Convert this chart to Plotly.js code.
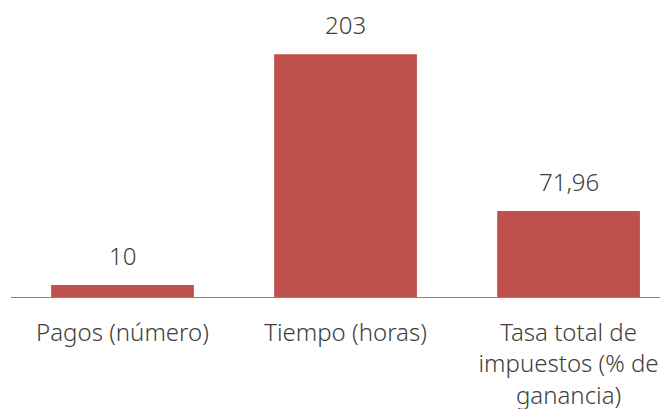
<!DOCTYPE html>
<html>
<head>
<meta charset="utf-8">
<script src="https://cdn.plot.ly/plotly-3.0.1.min.js"></script>
<style>body{margin:0;}#chart{width:667px;height:409px;}</style>
</head>
<body>
<div id="chart"></div>
<script>
var categories = ["Pagos (número)", "Tiempo (horas)", "Tasa total de<br>impuestos (% de<br>ganancia)"];
var values = [10, 203, 71.96];
var labels = ["10", "203", "71,96"];

var fontFace = "Noto Sans";
var textColor = "#404040";

var trace = {
	type: "bar",
	x: categories,
	y: values,
	marker: {color: "#C0504D"},
	hoverinfo: "none"
};

// value labels sit a bit higher above the bars than plotly's "outside" text
var notes = [];
for (var i = 0; i < categories.length; i++) {
	notes.push({
		x: categories[i],
		y: values[i],
		xref: "x",
		yref: "y",
		text: labels[i],
		showarrow: false,
		yanchor: "bottom",
		yshift: 11,
		font: {family: fontFace, size: 24, weight: 300, color: textColor}
	});
}

var layout = {
	width: 667,
	height: 409,
	margin: {l: 11, r: 7, t: 28, b: 112},
	paper_bgcolor: "#ffffff",
	plot_bgcolor: "#ffffff",
	bargap: 0.36,
	showlegend: false,
	font: {family: fontFace, size: 24, color: textColor},
	annotations: notes,
	xaxis: {
		// right end of the axis stops short of the last category's band
		range: [-0.5, 2.41],
		showline: true,
		linecolor: "#868686",
		linewidth: 1.3,
		ticks: "",
		ticklabelstandoff: 14,
		tickfont: {family: fontFace, size: 24, weight: 300, color: textColor},
		fixedrange: true
	},
	yaxis: {
		range: [0, 225],
		visible: false,
		showgrid: false,
		zeroline: false,
		fixedrange: true
	}
};

Plotly.newPlot("chart", [trace], layout, {displayModeBar: false, staticPlot: true});
</script>
</body>
</html>
